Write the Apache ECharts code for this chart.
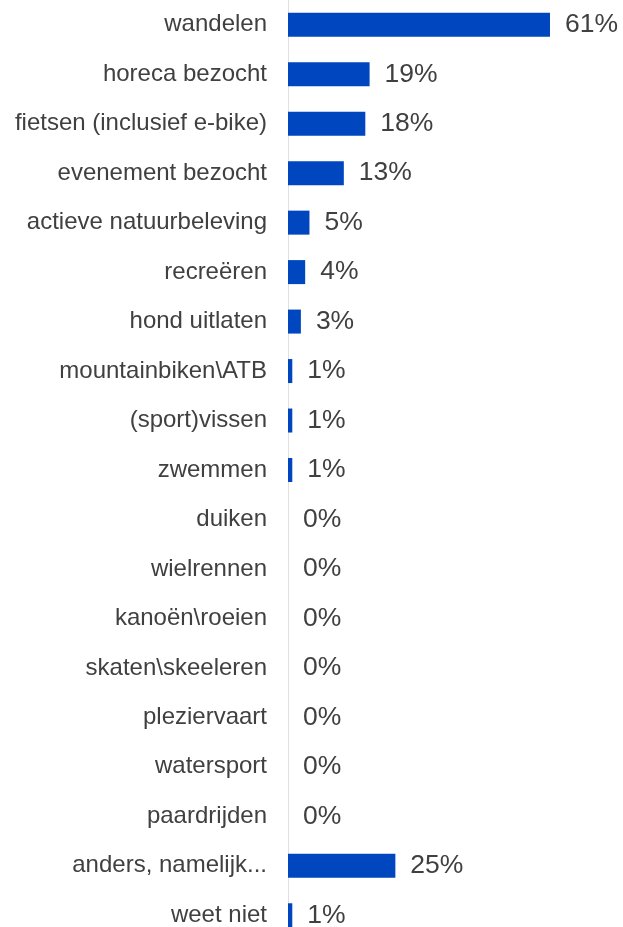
<!DOCTYPE html>
<html>
<head>
<meta charset="utf-8">
<script src="https://cdn.jsdelivr.net/npm/echarts@6/dist/echarts.min.js"></script>
<style>
  html, body { margin: 0; padding: 0; background: #ffffff; overflow: hidden; }
  #chart { width: 623px; height: 940px; }
</style>
</head>
<body>
<div id="chart"></div>
<script>
// Activities and share of respondents (%)
const categories = [
  'wandelen', 'horeca bezocht', 'fietsen (inclusief e-bike)', 'evenement bezocht',
  'actieve natuurbeleving', 'recreëren', 'hond uitlaten', 'mountainbiken\\ATB',
  '(sport)vissen', 'zwemmen', 'duiken', 'wielrennen', 'kanoën\\roeien',
  'skaten\\skeeleren', 'pleziervaart', 'watersport', 'paardrijden',
  'anders, namelijk...', 'weet niet'
];
const shares = [61, 19, 18, 13, 5, 4, 3, 1, 1, 1, 0, 0, 0, 0, 0, 0, 0, 25, 1];

const FONT = '"Liberation Sans", Arial, sans-serif';

const chart = echarts.init(document.getElementById('chart'), null, { renderer: 'canvas' });
chart.setOption({
  animation: false,
  backgroundColor: '#ffffff',
  grid: { left: 288, right: 0, top: 0, bottom: 0, containLabel: false },
  xAxis: {
    type: 'value', min: 0, max: 78, show: false,
    splitLine: { show: false }
  },
  yAxis: {
    type: 'category', data: categories, inverse: true,
    axisLine: { show: true, lineStyle: { color: '#e0e0e0', width: 1 } },
    axisTick: { show: false },
    axisLabel: {
      margin: 21, color: '#404040', fontSize: 24,
      fontFamily: FONT, padding: [6, 0, 0, 0]
    }
  },
  series: [{
    type: 'bar', data: shares, barWidth: 24,
    itemStyle: { color: '#0047bf' },
    label: {
      show: true, position: 'right', distance: 15,
      formatter: p => p.value + '%',
      color: '#404040', fontSize: 26.5,
      fontFamily: FONT, padding: [6, 0, 0, 0]
    }
  }]
});
</script>
</body>
</html>
